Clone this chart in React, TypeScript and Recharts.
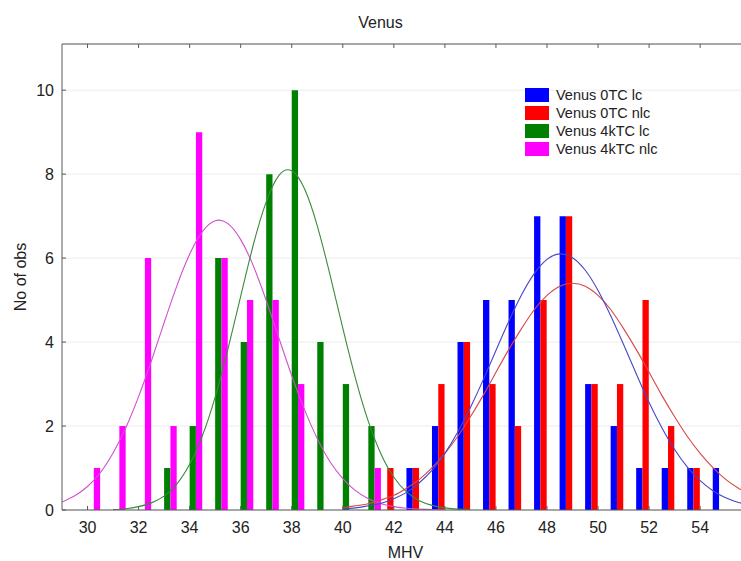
import { Bar, CartesianGrid, ComposedChart, Line, XAxis, YAxis } from "recharts";

// histogram bins (left edge of each 1-unit MHV bin)
const bins = [30, 31, 32, 33, 34, 35, 36, 37, 38, 39, 40, 41, 42, 43, 44, 45, 46, 47, 48, 49, 50, 51, 52, 53, 54];

const venus0TcLc = [0, 0, 0, 0, 0, 0, 0, 0, 0, 0, 0, 0, 1, 2, 4, 5, 5, 7, 7, 3, 2, 1, 1, 1, 1];
const venus0TcNlc = [0, 0, 0, 0, 0, 0, 0, 0, 0, 0, 0, 1, 1, 3, 4, 3, 2, 5, 7, 3, 3, 5, 2, 1, 0];
const venus4kTcLc = [0, 0, 0, 1, 2, 6, 4, 8, 10, 4, 3, 2, 0, 0, 0, 0, 0, 0, 0, 0, 0, 0, 0, 0, 0];
const venus4kTcNlc = [1, 2, 6, 2, 9, 6, 5, 5, 3, 0, 0, 1, 0, 0, 0, 0, 0, 0, 0, 0, 0, 0, 0, 0, 0];

// fitted normal curves, every 0.5
const curveX = [
  29, 29.5, 30, 30.5, 31, 31.5, 32, 32.5, 33, 33.5, 34, 34.5, 35, 35.5, 36, 36.5, 37, 37.5, 38, 38.5,
  39, 39.5, 40, 40.5, 41, 41.5, 42, 42.5, 43, 43.5, 44, 44.5, 45, 45.5, 46, 46.5, 47, 47.5, 48, 48.5,
  49, 49.5, 50, 50.5, 51, 51.5, 52, 52.5, 53, 53.5, 54, 54.5, 55, 55.5, 56,
];
const fit0TcLc = [
  null, null, null, null, null, null, null, null, null, null, null, null, null, null, null, null, null, null, null, null,
  null, null, 0.03, 0.05, 0.1, 0.16, 0.27, 0.42, 0.65, 0.95, 1.35, 1.85, 2.44, 3.1, 3.8, 4.49, 5.12, 5.63, 5.97, 6.1,
  6.01, 5.71, 5.23, 4.62, 3.94, 3.24, 2.56, 1.96, 1.44, 1.02, 0.7, 0.46, 0.29, 0.18, 0.11,
];
const fit0TcNlc = [
  null, null, null, null, null, null, null, null, null, null, null, null, null, null, null, null, null, null, null, null,
  null, null, 0.06, 0.1, 0.15, 0.24, 0.35, 0.52, 0.73, 1.01, 1.35, 1.75, 2.22, 2.73, 3.28, 3.82, 4.32, 4.77, 5.11, 5.33,
  5.4, 5.33, 5.11, 4.77, 4.32, 3.82, 3.28, 2.73, 2.22, 1.75, 1.35, 1.01, 0.73, 0.52, 0.35,
];
const fit4kTcLc = [
  null, null, null, null, 0.01, 0.03, 0.08, 0.17, 0.33, 0.62, 1.09, 1.77, 2.69, 3.83, 5.09, 6.33, 7.34, 7.97, 8.08, 7.65,
  6.77, 5.6, 4.33, 3.13, 2.11, 1.33, 0.78, 0.43, 0.22, 0.11, 0.05, 0.02, 0.01, null, null, null, null, null, null, null,
  null, null, null, null, null, null, null, null, null, null, null, null, null, null, null,
];
const fit4kTcNlc = [
  0.19, 0.34, 0.56, 0.89, 1.36, 1.96, 2.7, 3.55, 4.46, 5.34, 6.09, 6.63, 6.89, 6.82, 6.44, 5.81, 4.99, 4.09, 3.2, 2.39,
  1.7, 1.15, 0.75, 0.46, 0.27, 0.15, 0.08, 0.04, 0.02, 0.01, 0.01, null, null, null, null, null, null, null, null, null,
  null, null, null, null, null, null, null, null, null, null, null, null, null, null, null,
];

const xTicks = [30, 32, 34, 36, 38, 40, 42, 44, 46, 48, 50, 52, 54];
const yTicks = [0, 2, 4, 6, 8, 10];

const seriesNames = ["Venus 0TC lc", "Venus 0TC nlc", "Venus 4kTC lc", "Venus 4kTC nlc"];
const barColors = ["#0000ff", "#ff0000", "#008000", "#ff00ff"];
const fitColors = ["#4646c8", "#d84646", "#3a8a3a", "#d050d0"];

// bars sit in the middle of each bin
const barRows = bins.map((b, i) => ({
  x: b + 0.5,
  lc0: venus0TcLc[i],
  nlc0: venus0TcNlc[i],
  lc4k: venus4kTcLc[i],
  nlc4k: venus4kTcNlc[i],
}));

const curveRows = curveX.map((x, i) => ({
  x,
  lc0: fit0TcLc[i],
  nlc0: fit0TcNlc[i],
  lc4k: fit4kTcLc[i],
  nlc4k: fit4kTcNlc[i],
}));

const axisColor = "#5a5a5a";
const textColor = "#222";

export default function App() {
  return (
    <div
      style={{
        position: "absolute",
        left: 0,
        top: 0,
        width: 741,
        height: 561,
        background: "#fff",
        fontFamily: "'Liberation Sans', Arial, sans-serif",
      }}
    >
      <div
        style={{
          position: "absolute",
          left: 0,
          top: 15,
          width: 761,
          textAlign: "center",
          fontSize: 16,
          lineHeight: "16px",
          color: textColor,
        }}
      >
        Venus
      </div>

      <ComposedChart
        width={741}
        height={561}
        data={barRows}
        margin={{ top: 40, right: 0, bottom: 0, left: 0 }}
        barGap={0}
        barCategoryGap={0}
      >
        <CartesianGrid vertical={false} stroke="#ececec" />
        <XAxis
          dataKey="x"
          type="number"
          domain={[29, 55.6]}
          allowDataOverflow
          ticks={xTicks}
          interval={0}
          height={51}
          tickSize={-4}
          tickMargin={16}
          stroke={axisColor}
          tick={{ fill: textColor, fontSize: 16 }}
          label={{ value: "MHV", position: "center", dx: 4, dy: 17, fill: textColor, fontSize: 16 }}
        />
        {/* top frame with inward ticks; the fitted curves use this axis */}
        <XAxis
          xAxisId="fit"
          orientation="top"
          dataKey="x"
          type="number"
          domain={[29, 55.6]}
          allowDataOverflow
          ticks={xTicks}
          interval={0}
          height={4}
          tick={() => <g />}
          tickSize={-4}
          stroke={axisColor}
        />
        <YAxis
          type="number"
          domain={[0, 11.1]}
          allowDataOverflow
          ticks={yTicks}
          interval={0}
          width={62}
          tickSize={-4}
          tickMargin={12}
          stroke={axisColor}
          tick={{ fill: textColor, fontSize: 16 }}
          label={{ value: "No of obs", angle: -90, position: "center", dx: -11, fill: textColor, fontSize: 16 }}
        />

        <Bar dataKey="lc4k" fill={barColors[2]} barSize={6.3} isAnimationActive={false} />
        <Bar dataKey="nlc4k" fill={barColors[3]} barSize={6.3} isAnimationActive={false} />
        <Bar dataKey="lc0" fill={barColors[0]} barSize={6.3} isAnimationActive={false} />
        <Bar dataKey="nlc0" fill={barColors[1]} barSize={6.3} isAnimationActive={false} />

        <Line data={curveRows} xAxisId="fit" dataKey="nlc4k" type="natural" stroke={fitColors[3]} strokeWidth={1.1} dot={false} isAnimationActive={false} />
        <Line data={curveRows} xAxisId="fit" dataKey="lc4k" type="natural" stroke={fitColors[2]} strokeWidth={1.1} dot={false} isAnimationActive={false} />
        <Line data={curveRows} xAxisId="fit" dataKey="nlc0" type="natural" stroke={fitColors[1]} strokeWidth={1.1} dot={false} isAnimationActive={false} />
        <Line data={curveRows} xAxisId="fit" dataKey="lc0" type="natural" stroke={fitColors[0]} strokeWidth={1.1} dot={false} isAnimationActive={false} />
      </ComposedChart>

      {/* legend sits inside the plot, top right */}
      <div style={{ position: "absolute", left: 525, top: 86 }}>
        {seriesNames.map((name, i) => (
          <div key={name} style={{ display: "flex", alignItems: "center", height: 18 }}>
            <span style={{ display: "inline-block", width: 24, height: 14, background: barColors[i] }} />
            <span style={{ marginLeft: 7, fontSize: 14.5, color: textColor, whiteSpace: "nowrap" }}>{name}</span>
          </div>
        ))}
      </div>
    </div>
  );
}
